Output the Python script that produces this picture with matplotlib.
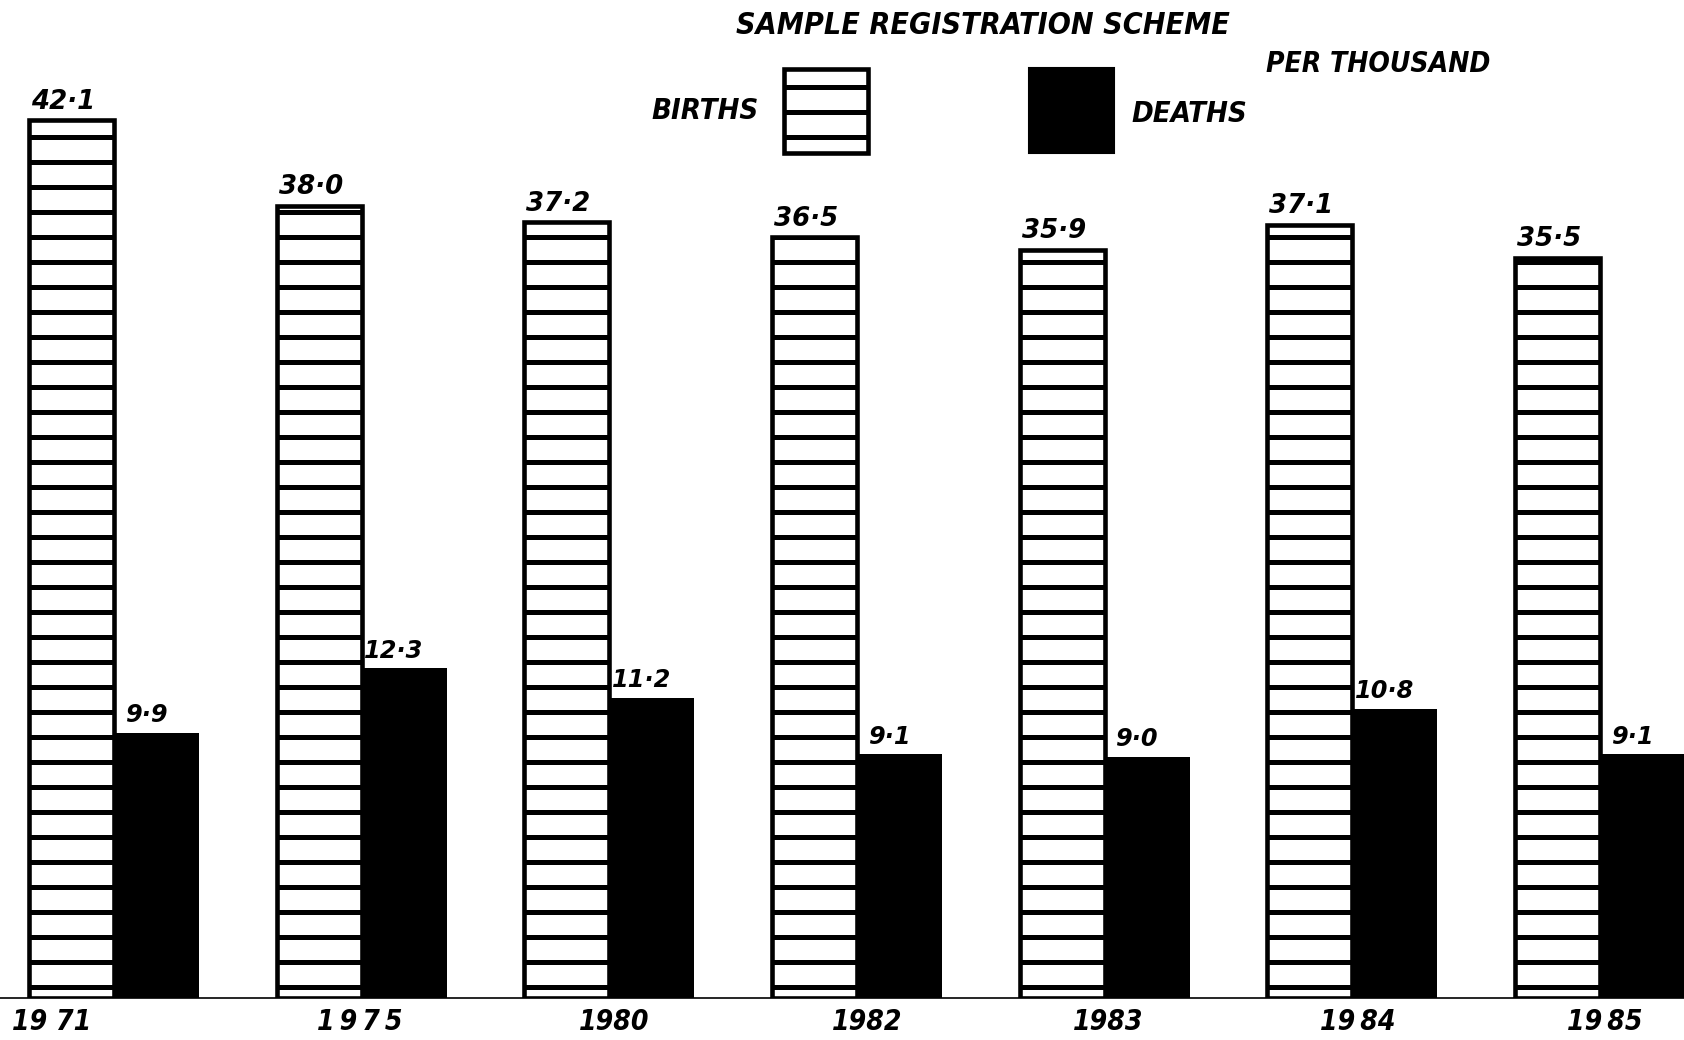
import matplotlib
matplotlib.use('Agg')
import matplotlib.pyplot as plt
from matplotlib.patches import Rectangle
from matplotlib.transforms import ScaledTranslation
from matplotlib import font_manager as fm
import numpy as np

# ---- data ----
years = ["19 71", "1\u20099\u20097\u20095", "1980", "1982", "1983", "19\u200984", "19\u200985"]
births = [42.1, 38.0, 37.2, 36.5, 35.9, 37.1, 35.5]
deaths = [9.9, 12.3, 11.2, 9.1, 9.0, 10.8, 9.1]
birth_labels = ["42·1", "38·0", "37·2", "36·5", "35·9", "37·1", "35·5"]
death_labels = ["9·9", "12·3", "11·2", "9·1", "9·0", "10·8", "9·1"]

TITLE = "SAMPLE REGISTRATION SCHEME"
UNIT = "PER THOUSAND"
LEG_B = "BIRTHS"
LEG_D = "DEATHS"

DPI = 150
plt.rcParams['hatch.linewidth'] = 2.4

fp = fm.FontProperties(family='DejaVu Sans', stretch='condensed', weight='bold', style='italic')
found = fm.findfont(fp)
COND = 'Condensed' in found
TXT = dict(family='DejaVu Sans', fontweight='bold', fontstyle='italic',
           fontstretch='condensed')
k = 1.0 if COND else 0.85

fig = plt.figure(figsize=(1685 / DPI, 1040 / DPI), dpi=DPI)
ax = fig.add_axes([0, 42 / 1040, 1, 998 / 1040])
ax2 = ax.twinx()

x = np.arange(len(years))
w = 0.343
ax.bar(x - w / 2, births, width=w, facecolor='white', edgecolor='black',
       linewidth=2.2, hatch='-')
ax2.bar(x + w / 2, deaths, width=w, color='black', edgecolor='black', linewidth=0)

ax.set_xlim(-0.46, 6.343)
ax.set_ylim(0, 47.87)
ax2.set_ylim(0, 37.24)

for a in (ax, ax2):
    for s in ('top', 'left', 'right'):
        a.spines[s].set_visible(False)
    a.set_yticks([])
ax2.spines['bottom'].set_visible(False)
ax.spines['bottom'].set_linewidth(0.8)
ax.set_facecolor('none')

ax.set_xticks(x)
ax.set_xticklabels(years, fontsize=13.5 * k, **TXT)
ax.tick_params(axis='x', length=0, pad=5)
labels = ax.get_xticklabels()
shifts = [-62, -2, 5, 10, 3, 5, 5]
for lab, s in zip(labels, shifts):
    lab.set_transform(lab.get_transform() +
                      ScaledTranslation(s / DPI, 0, fig.dpi_scale_trans))

NUM = dict(family='DejaVu Sans', fontweight='bold', fontstyle='italic')
for xi, b, lbl in zip(x, births, birth_labels):
    ax.annotate(lbl, (xi - w / 2, b), xytext=(-4, 5.5), textcoords='offset points',
                ha='center', va='baseline', fontsize=12.5, **NUM)
for xi, d, lbl in zip(x, deaths, death_labels):
    ax2.annotate(lbl, (xi + w / 2, d), xytext=(-5, 5), textcoords='offset points',
                 ha='center', va='baseline', fontsize=11.5, **NUM)

# ---- title / legend ----
fig.text(983 / 1685, 1 - 26 / 1040, TITLE, ha='center', va='center',
         fontsize=14.5 * k, **TXT)
fig.text(1378.5 / 1685, 1 - 64 / 1040, UNIT, ha='center', va='center',
         fontsize=13.5 * k, **TXT)
fig.text(705.5 / 1685, 1 - 111 / 1040, LEG_B, ha='center', va='center',
         fontsize=14 * k, **TXT)
fig.text(1189.5 / 1685, 1 - 114 / 1040, LEG_D, ha='center', va='center',
         fontsize=14 * k, **TXT)

fig.patches.append(Rectangle((784 / 1685, 1 - 153 / 1040), 84 / 1685, 84 / 1040,
                             transform=fig.transFigure, facecolor='white',
                             edgecolor='black', linewidth=2.2, hatch='-'))
fig.patches.append(Rectangle((1029 / 1685, 1 - 153 / 1040), 85 / 1685, 85 / 1040,
                             transform=fig.transFigure, facecolor='black',
                             edgecolor='black', linewidth=1.0))

fig.savefig('out.png', dpi=DPI, facecolor='white')
